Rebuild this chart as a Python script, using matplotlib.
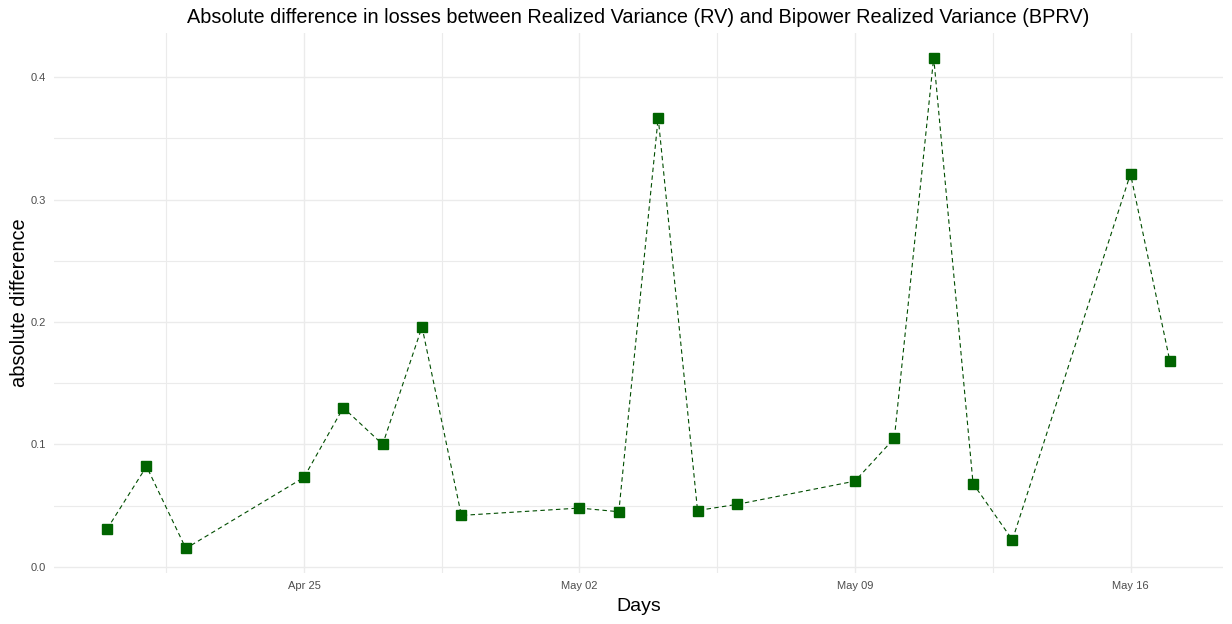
import matplotlib
matplotlib.use("Agg")
import matplotlib.pyplot as plt
import matplotlib.dates as mdates
import numpy as np
import pandas as pd

# Data.
days = ["2022-04-20", "2022-04-21", "2022-04-22", "2022-04-25", "2022-04-26",
        "2022-04-27", "2022-04-28", "2022-04-29", "2022-05-02", "2022-05-03",
        "2022-05-04", "2022-05-05", "2022-05-06", "2022-05-09", "2022-05-10",
        "2022-05-11", "2022-05-12", "2022-05-13", "2022-05-16", "2022-05-17"]
abs_diff = [0.031, 0.082, 0.015, 0.073, 0.130,
            0.100, 0.196, 0.042, 0.048, 0.045,
            0.367, 0.046, 0.051, 0.070, 0.105,
            0.416, 0.068, 0.022, 0.321, 0.168]
major_ticks = ["2022-04-25", "2022-05-02", "2022-05-09", "2022-05-16"]
tick_labels = ["Apr 25", "May 02", "May 09", "May 16"]

plt.rcParams['font.family'] = ['Liberation Sans', 'DejaVu Sans']

dates = pd.to_datetime(days)
x = mdates.date2num(dates)
y = np.array(abs_diff)

fig = plt.figure(figsize=(12.32, 6.24), dpi=100)
ax = fig.add_axes([54 / 1232, 1 - 573 / 624, (1223 - 54) / 1232, (573 - 33) / 624])

# ggplot-like expansion of 5%
xr = x.max() - x.min()
ax.set_xlim(x.min() - 0.05 * xr, x.max() + 0.05 * xr)
yr = y.max() - y.min()
ax.set_ylim(y.min() - 0.05 * yr, y.max() + 0.05 * yr)

grid_col = "#EBEBEB"
maj = mdates.date2num(pd.to_datetime(major_ticks))
ax.set_xticks(maj)
ax.set_xticklabels(tick_labels)
ax.set_xticks(np.append(maj[0] - 3.5, maj[:-1] + 3.5), minor=True)
ax.set_yticks([0.0, 0.1, 0.2, 0.3, 0.4])
ax.set_yticklabels(["0.0", "0.1", "0.2", "0.3", "0.4"])
ax.set_yticks([0.05, 0.15, 0.25, 0.35], minor=True)
ax.grid(True, which="major", color=grid_col, linewidth=1.0)
ax.grid(True, which="minor", color=grid_col, linewidth=0.8)
ax.set_axisbelow(True)
for s in ax.spines.values():
    s.set_visible(False)
ax.tick_params(which="both", length=0)
ax.tick_params(axis="both", labelsize=8, labelcolor="#4D4D4D", pad=6)

ax.plot(x, y, linestyle=(0, (4, 3)), color="#004d00", linewidth=0.8, zorder=2)
ax.plot(x, y, linestyle="none", marker="s", markersize=7.5, color="#006400", zorder=3)

ax.set_title("Absolute difference in losses between Realized Variance (RV) and Bipower Realized Variance (BPRV)",
             fontsize=14.3, pad=7)
ax.set_xlabel("Days", fontsize=14, labelpad=5)
ax.set_ylabel("absolute difference", fontsize=14.4, labelpad=1)

fig.savefig("out.png", dpi=100)
